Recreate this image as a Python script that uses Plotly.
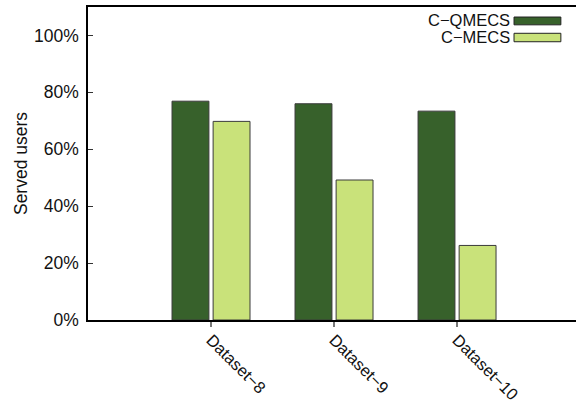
import plotly.graph_objects as go

categories = ["Dataset\u22128", "Dataset\u22129", "Dataset\u221210"]
series_names = ["C\u2212QMECS", "C\u2212MECS"]
cqmecs = [76.9, 76.0, 73.4]
cmecs = [69.8, 49.2, 26.2]
y_ticks = [0, 20, 40, 60, 80, 100]
y_tick_labels = ["0%", "20%", "40%", "60%", "80%", "100%"]

colors = ["#37612B", "#C9E27A"]
FONT = "Liberation Sans, Arial, sans-serif"
FS = 17.5

xpos = list(range(len(categories)))
fig = go.Figure()
for name, vals, col, off in zip(series_names, [cqmecs, cmecs], colors, [-0.317, 0.017]):
    fig.add_trace(go.Bar(
        x=xpos, y=vals, name=name, width=0.30, offset=off,
        marker=dict(color=col, line=dict(color="#3a3a3a", width=1)),
        showlegend=False,
    ))

# legend drawn manually (text left of sample box, like the reference)
rows_y = [0.958, 0.903]
box_y = [(0.943, 0.968), (0.889, 0.916)]
for name, col, ty, (y0, y1) in zip(series_names, colors, rows_y, box_y):
    fig.add_annotation(x=0.868, y=ty, xref="paper", yref="paper", text=name,
                       showarrow=False, xanchor="right", yanchor="middle",
                       font=dict(family=FONT, size=16.5, color="#111"))
    fig.add_shape(type="rect", xref="paper", yref="paper",
                  x0=0.873, x1=0.969, y0=y0, y1=y1,
                  fillcolor=col, line=dict(color="#222", width=1))

fig.update_layout(
    width=576, height=407,
    margin=dict(l=88, r=0, t=7, b=86.5),
    paper_bgcolor="white", plot_bgcolor="white",
    font=dict(family=FONT, size=FS, color="#111"),
    barmode="overlay",
)
fig.update_xaxes(
    range=[-1, 2.967], tickmode="array", tickvals=xpos, ticktext=categories,
    tickangle=45, ticks="outside", ticklen=5, tickcolor="#777", tickwidth=1.5,
    ticklabelstandoff=-3,
    showline=True, linecolor="black", linewidth=1.5, mirror=True,
    showgrid=False, zeroline=False, automargin=False,
    tickfont=dict(family=FONT, size=16.5, color="#111"),
)
fig.update_yaxes(
    range=[0, 110], tickmode="array", tickvals=y_ticks, ticktext=y_tick_labels,
    ticks="inside", ticklen=5, tickcolor="#333", tickwidth=1,
    ticklabelstandoff=4,
    showline=True, linecolor="black", linewidth=1.5, mirror=False,
    showgrid=False, zeroline=False, automargin=False,
    title=dict(text="Served users", font=dict(family=FONT, size=FS, color="#111"), standoff=2),
    tickfont=dict(family=FONT, size=FS, color="#111"),
)
fig.write_html("out.html")
